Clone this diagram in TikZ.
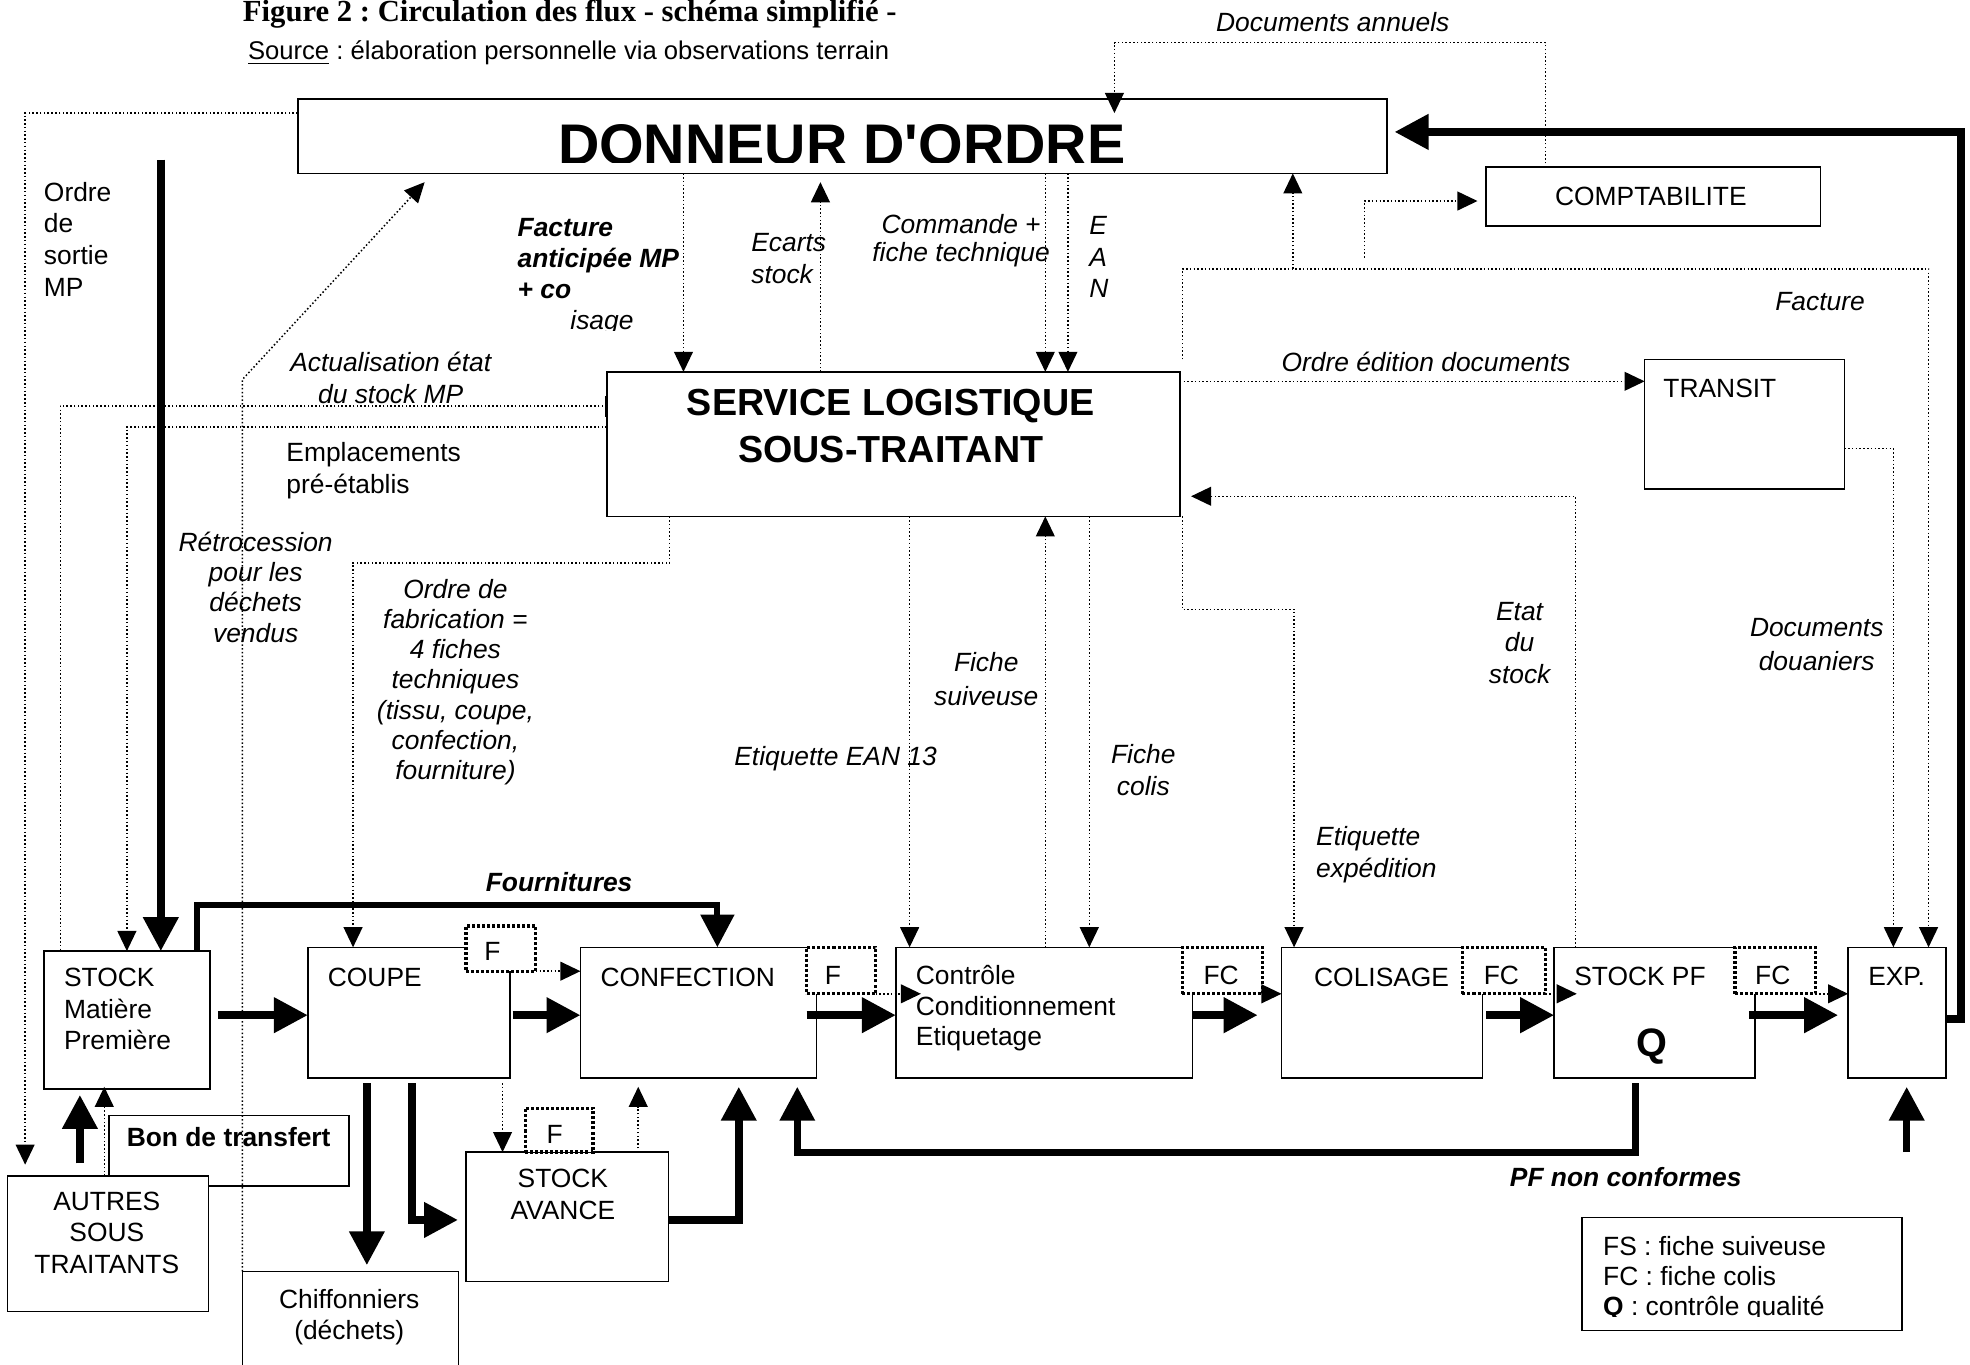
\documentclass[tikz,border=0pt]{standalone}
\usepackage{fontspec}
\setmainfont{Liberation Sans}
\newfontfamily\serifbf{Liberation Serif}
\usetikzlibrary{arrows.meta,fit,calc}
\newcommand\myfn{\fontsize{10.5pt}{12.5pt}\selectfont}
\newcommand\myfs[1]{\fontsize{10.5pt}{#1}\selectfont}
\frenchspacing
\begin{document}
\begin{tikzpicture}[x=0.5pt,y=-0.5pt,
 box/.style={draw, line width=0.65pt, fill=white, inner sep=0pt, outer sep=0pt},
 tagbox/.style={draw, line width=1.3pt, dash pattern=on 1.2pt off 0.8pt, fill=white, inner sep=0pt, outer sep=0pt},
 dots/.style={line width=0.6pt, dash pattern=on 0.6pt off 0.9pt},
 dotarr/.style={dots, -{Triangle[length=8pt,width=7.5pt]}},
 heavy/.style={line width=3pt, line join=miter},
 heavyarr/.style={heavy, -{Triangle[length=13.5pt,width=13.5pt]}},
 lab/.style={inner sep=0pt, outer sep=0pt, font=\myfn},
 ilab/.style={inner sep=0pt, outer sep=0pt, font=\myfn\itshape},
 blab/.style={inner sep=0pt, outer sep=0pt, font=\myfn\bfseries},
 bilab/.style={inner sep=0pt, outer sep=0pt, font=\myfn\bfseries\itshape}]
\useasboundingbox (0,0) rectangle (1568,1086);

% ---------- title ----------
\node[anchor=base west, inner sep=0pt, font=\serifbf\bfseries\fontsize{12.2pt}{14pt}\selectfont] (title) at (193,17) {Figure 2 : Circulation des flux - schéma simplifié -};
\node[anchor=base west, inner sep=0pt, font=\fontsize{10.2pt}{12pt}\selectfont] (source) at (197,47.5) {\underline{Source} : élaboration personnelle via observations terrain};

% ---------- boxes ----------
\node[box, fit={(87,888) (278,944)}] (bon) {};
\node[box, fit={(6,936) (166,1044)}] (autres) {};
\node[box, fit={(237,79) (1104,138)}] (donneur) {};
\node[box, fit={(1183,133) (1449,180)}] (compta) {};
\node[box, fit={(483,296) (939,411)}] (service) {};
\node[box, fit={(1309,286) (1468,389)}] (transit) {};
\node[box, fit={(35,757) (167,867)}] (stockmp) {};
\node[box, fit={(245,754) (406,858)}] (coupe) {};
\node[box, fit={(462,754) (650,858)}] (confection) {};
\node[box, fit={(713,754) (949,858)}] (controle) {};
\node[box, fit={(1020,754) (1180,858)}] (colisage) {};
\node[box, fit={(1237,754) (1397,858)}] (stockpf) {};
\node[box, fit={(1471,754) (1549,858)}] (exp) {};
\node[box, fit={(371,917) (532,1020)}] (avance) {};
\node[box, fit={(193,1012) (365,1100)}] (chiffon) {};
\node[box, fit={(1259,969) (1514,1059)}] (legend) {};

% ---------- heavy flows ----------
\coordinate (mpsrc) at (128,127);
\draw[heavyarr] (mpsrc) -- (stockmp.north -| 128,0);
\draw[heavyarr] ($(stockmp.east |- 0,808)+(6.5,0)$) -- (coupe.west |- 0,808);
\draw[heavyarr] ($(coupe.east |- 0,808)+(2,0)$) -- (confection.west |- 0,808);
\draw[heavyarr] ($(confection.east |- 0,808)+(-8,0)$) -- (controle.west |- 0,808);
\draw[heavyarr] (controle.east |- 0,808) -- ($(colisage.west |- 0,808)+(-19,0)$);
\draw[heavyarr] ($(colisage.east |- 0,808)+(3,0)$) -- (stockpf.west |- 0,808);
\draw[heavyarr] ($(stockpf.east |- 0,808)+(-5,0)$) -- ($(exp.west |- 0,808)+(-8,0)$);
\draw[heavyarr] (exp.east |- 0,811) -- (1561,811) -- (1561,105) -- ($(donneur.east |- 0,105)+(6,0)$);
\draw[heavy, line width=2.4pt, -{Triangle[length=13pt,width=13pt]}] (stockmp.north -| 157,0) -- (157,720) -- (571,720) -- (confection.north -| 571,0);
\draw[heavyarr] ($(coupe.south -| 292,0)+(0,4)$) -- ($(chiffon.north -| 292,0)+(0,-5)$);
\draw[heavyarr] ($(coupe.south -| 328,0)+(0,4)$) -- (328,971) -- ($(avance.west |- 0,971)+(-6.5,0)$);
\draw[heavyarr] (avance.east |- 0,971) -- (588,971) -- ($(confection.south -| 588,0)+(0,7)$);
\draw[heavy, line width=2.7pt, -{Triangle[length=13.5pt,width=13.5pt]}] ($(stockpf.south -| 1301.5,0)+(0,4)$) -- (1301.5,917) -- (634.6,917) -- ($(confection.south -| 634.6,0)+(0,7)$);
\coordinate (expsrc) at (1517.6,917);
\draw[heavyarr] (expsrc) -- ($(exp.south -| 1517.6,0)+(0,7)$);
\draw[heavyarr] ($(autres.north -| 63.6,0)+(0,-10)$) -- ($(stockmp.south -| 63.6,0)+(0,4.5)$);

% ---------- dotted flows ----------
\coordinate (sortieend) at (20,927);
\draw[dotarr] (donneur.west |- 0,90) -- (20,90) -- (sortieend);
\draw[dotarr] (compta.north -| 1230,0) -- (1230,34) -- (887,34) -- (donneur.north -| 887,0) -- ++(0,11);
\draw[dotarr] (chiffon.north -| 193,0) -- (193,302) -- ($(donneur.south -| 338,0)+(0,7)$);
\draw[dots] (service.west |- 0,323) -- (48,323) -- (stockmp.north -| 48,0);
\draw[line width=1.2pt] (service.west |- 0,315) -- (service.west |- 0,332);
\draw[dotarr] (service.west |- 0,340) -- (101,340) -- (stockmp.north -| 101,0);
\draw[dotarr] (donneur.south -| 544,0) -- (service.north -| 544,0);
\draw[dotarr] (service.north -| 653,0) -- ($(donneur.south -| 653,0)+(0,7)$);
\draw[dotarr] (donneur.south -| 832,0) -- (service.north -| 832,0);
\draw[dotarr] (donneur.south -| 850,0) -- (service.north -| 850,0);
\draw[dotarr] ($(service.north east)+(2,-10)$) -- (941,214) -- (1535,214) -- (exp.north -| 1535,0);
\draw[dotarr] (1029,214) -- (donneur.south -| 1029,0);
\draw[dotarr] (1086,205) -- (1086,160) -- ($(compta.west |- 0,160)+(-7,0)$);
\draw[dotarr] ($(service.south east)+(2,0)$) -- (941,485) -- (1030,485) -- (colisage.north -| 1030,0);
\draw[dotarr] (service.east |- 0,303.5) -- (transit.west |- 0,303.5);
\draw[dotarr] (stockpf.north -| 1254,0) -- (1254,395) -- ($(service.east |- 0,395)+(9,0)$);
\draw[dotarr] (transit.east |- 0,357) -- (1507,357) -- (exp.north -| 1507,0);
\draw[dotarr] (service.south -| 533,0) -- (533,448) -- (281,448) -- (coupe.north -| 281,0);
\draw[dotarr] (service.south -| 724,0) -- (controle.north -| 724,0);
\draw[dotarr] (controle.north -| 832,0) -- (service.south -| 832,0);
\draw[dotarr] (service.south -| 867,0) -- (controle.north -| 867,0);
\draw[dotarr] ($(coupe.south -| 400,0)+(0,4)$) -- (avance.north -| 400,0);
\draw[dotarr] (avance.north -| 508,0) -- ($(confection.south -| 508,0)+(0,7)$);
\draw[dotarr] (autres.north -| 83,0) -- ($(stockmp.south -| 83,0)+(0,-2)$);

% ---------- tags ----------
\node[tagbox, fit={(371,737) (426.5,773)}] (tagA) {};
\node[tagbox, fit={(642,754) (697,791)}] (tagB) {};
\node[tagbox, fit={(941,754) (1005,791)}] (tagC) {};
\node[tagbox, fit={(1164,754) (1230,791)}] (tagD) {};
\node[tagbox, fit={(1381,754) (1445,791)}] (tagE) {};
\node[tagbox, fit={(418,882) (472,917)}] (tagF) {};
\draw[dotarr] (tagA.south east) -- (confection.west |- tagA.south east);
\draw[dotarr] (tagB.south east) -- ($(controle.west |- tagB.south east)+(20,0)$);
\draw[dotarr] (tagC.south east) -- (colisage.west |- tagC.south east);
\draw[dotarr] (tagD.south east) -- ($(stockpf.west |- tagD.south east)+(18,0)$);
\draw[dotarr] (tagE.south east) -- (exp.west |- tagE.south east);

% ---------- texts in boxes (multi-line: base = last line) ----------
\begin{scope}
\clip (237,79) rectangle (1104,129);
\node[anchor=base, inner sep=0pt, font=\bfseries\fontsize{22.8pt}{26pt}\selectfont] (donneurtxt) at (670,131) {DONNEUR D\textquotesingle ORDRE};
\end{scope}
\node[lab, anchor=base] (comptxt) at (1314,163.5) {COMPTABILITE};
\node[anchor=base, align=center, inner sep=0pt, font=\bfseries\fontsize{15pt}{18.5pt}\selectfont] (servtxt) at (709,368) {SERVICE LOGISTIQUE\\SOUS-TRAITANT};
\node[lab, anchor=base west] (transtxt) at (1324,316) {TRANSIT};
\node[lab, anchor=base west, align=left] (stockmptxt) at (51,835.5) {STOCK\\Matière\\Première};
\node[lab, anchor=base west] (coupetxt) at (261,785.5) {COUPE};
\node[lab, anchor=base west] (conftxt) at (478,785.5) {CONFECTION};
\node[lab, anchor=base west, align=left, font=\myfs{12.25pt}] (ctrltxt) at (729,832.5) {Contrôle\\Conditionnement\\Etiquetage};
\node[lab, anchor=base west] (colistxt) at (1046,785.5) {COLISAGE};
\node[lab, anchor=base west] (stockpftxt) at (1253,784.5) {STOCK PF};
\node[anchor=base, inner sep=0pt, font=\bfseries\fontsize{15.8pt}{18pt}\selectfont] (qtxt) at (1315,841) {Q};
\node[lab, anchor=base west] (exptxt) at (1487,784.5) {EXP.};
\node[lab, anchor=base, align=center] (avtxt) at (448,970.5) {STOCK\\AVANCE};
\node[lab, anchor=base, align=center] (autxt) at (85,1013.5) {AUTRES\\SOUS\\TRAITANTS};
\node[lab, anchor=base, align=center] (chtxt) at (278,1066.5) {Chiffonniers\\(déchets)};
\node[blab, anchor=base] (bontxt) at (182,912.7) {Bon de transfert};
\node[lab, anchor=base west] (tAtxt) at (385.6,764.5) {F};
\node[lab, anchor=base west] (tBtxt) at (656.6,783.5) {F};
\node[lab, anchor=base west] (tCtxt) at (958,783.5) {FC};
\node[lab, anchor=base west] (tDtxt) at (1181,783.5) {FC};
\node[lab, anchor=base west] (tEtxt) at (1397,783.5) {FC};
\node[lab, anchor=base west] (tFtxt) at (435,910) {F};
\begin{scope}
\clip (1259,969) rectangle (1514,1047.5);
\node[lab, anchor=base west, align=left, font=\myfs{12pt}] (legtxt) at (1276,1047) {FS : fiche suiveuse\\FC : fiche colis\\\textbf{Q} : contrôle qualité};
\end{scope}

% ---------- connector labels ----------
\node[lab, anchor=base west, align=left, font=\myfs{12.6pt}] (sortietxt) at (35,235.6) {Ordre\\de\\sortie\\MP};
\node[bilab, anchor=base west, align=left, font=\myfs{12.2pt}\bfseries\itshape] (facanttxt) at (412,237.3) {Facture\\anticipée MP\\+ co};
\begin{scope}
\clip (440,240) rectangle (520,263);
\node[ilab, anchor=base west] (isagetxt) at (454,262.5) {isage};
\end{scope}
\node[ilab, anchor=base west, align=left, font=\myfs{12.6pt}\itshape] (ecartstxt) at (598,225.5) {Ecarts\\stock};
\node[ilab, anchor=base, align=center, font=\myfs{11pt}\itshape] (commtxt) at (765,208) {Commande +\\fiche technique};
\node[ilab, anchor=base west, align=left, font=\myfs{12.5pt}\itshape] (eantxt) at (867,237) {E\\A\\N};
\node[ilab, anchor=base west] (docanntxt) at (968,25) {Documents annuels};
\node[ilab, anchor=base west] (facttxt) at (1413,247) {Facture};
\node[ilab, anchor=base west] (ordedtxt) at (1020,296) {Ordre édition documents};
\node[ilab, anchor=base, align=center] (actutxt) at (311,321) {Actualisation état\\du stock MP};
\node[lab, anchor=base west, align=left] (emptxt) at (228,392.6) {Emplacements\\pré-établis};
\node[ilab, anchor=base, align=center, font=\myfs{12pt}\itshape] (retrotxt) at (203.5,511) {Rétrocession\\pour les\\déchets\\vendus};
\node[ilab, anchor=base, align=center, font=\myfs{12.05pt}\itshape] (ordfabtxt) at (362.5,620.6) {Ordre de\\fabrication =\\4 fiches\\techniques\\(tissu, coupe,\\confection,\\fourniture)};
\node[ilab, anchor=base, align=center, font=\myfs{13.5pt}\itshape] (fstxt) at (785,561.6) {Fiche\\suiveuse};
\node[ilab, anchor=base west] (eantxt2) at (584.5,609) {Etiquette EAN 13};
\node[ilab, anchor=base, align=center, font=\myfs{12.75pt}\itshape] (fctxt) at (910,633) {Fiche\\colis};
\node[ilab, anchor=base west, align=left, font=\myfs{13pt}\itshape] (etexptxt) at (1047.6,698.6) {Etiquette\\expédition};
\node[ilab, anchor=base, align=center, font=\myfs{12.6pt}\itshape] (etattxt) at (1209.5,543.9) {Etat\\du\\stock};
\node[ilab, anchor=base, align=center, font=\myfs{13.3pt}\itshape] (douatxt) at (1446,533.3) {Documents\\douaniers};
\node[bilab, anchor=base] (fourntxt) at (445,709.7) {Fournitures};
\node[bilab, anchor=base] (pfnctxt) at (1294,944.5) {PF non conformes};
\end{tikzpicture}
\end{document}
